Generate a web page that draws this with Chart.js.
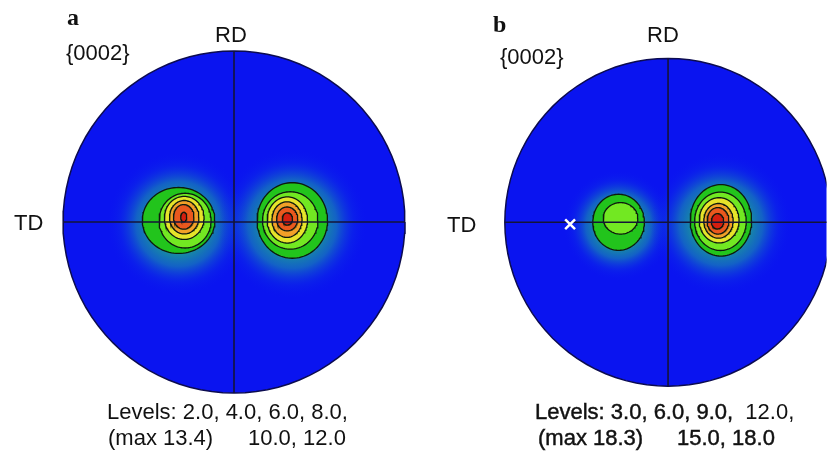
<!DOCTYPE html>
<html><head><meta charset="utf-8">
<script src="https://cdn.jsdelivr.net/npm/chart.js@4"></script>
<style>
body{margin:0;background:#fff;width:836px;height:458px;overflow:hidden;position:relative;font-family:"Liberation Sans",Arial,sans-serif;}
canvas{position:absolute;top:0}
.t{position:absolute;font-size:22px;color:#111;white-space:pre;line-height:1}
.s{font-family:"Liberation Serif","Times New Roman",serif;font-weight:bold;font-size:24px}
.h{-webkit-text-stroke:0.45px #111}
</style></head><body>
<canvas id="ca" width="418" height="458" style="left:0"></canvas>
<canvas id="cb" width="418" height="458" style="left:418px"></canvas>

<div class="t s" style="left:67px;top:5px">a</div>
<div class="t" style="left:66px;top:42px">{0002}</div>
<div class="t" style="left:215px;top:24px">RD</div>
<div class="t" style="left:14px;top:212px">TD</div>
<div class="t" style="left:107px;top:401px">Levels: 2.0, 4.0, 6.0, 8.0,</div>
<div class="t" style="left:108px;top:427px">(max 13.4)</div>
<div class="t" style="left:248px;top:427px">10.0, 12.0</div>

<div class="t s" style="left:493px;top:12px">b</div>
<div class="t" style="left:500px;top:46px">{0002}</div>
<div class="t" style="left:647px;top:24px">RD</div>
<div class="t" style="left:447px;top:214px">TD</div>
<div class="t h" style="left:535px;top:401px">Levels: 3.0, 6.0, 9.0,  <span style="-webkit-text-stroke:0">12.0,</span></div>
<div class="t h" style="left:538px;top:427px">(max 18.3)</div>
<div class="t h" style="left:677px;top:427px">15.0, 18.0</div>

<script>
// Contour levels shown in each pole figure
const levelsA = [2.0, 4.0, 6.0, 8.0, 10.0, 12.0];
const levelsB = [3.0, 6.0, 9.0, 12.0, 15.0, 18.0];
const maxA = 13.4, maxB = 18.3;
// band colours: region above level i
const bandColors = ['#22c41c', '#72e822', '#e6e42a', '#f2a028', '#ea581e', '#d41e10'];

// Contours per peak, one row per level: [centreX, centreY, radiusX, radiusY] (pole figure radius = 1)
const peakA1 = [[-0.324,0.009,0.212,0.193],[-0.286,0.008,0.152,0.160],[-0.291,0.024,0.116,0.126],[-0.291,0.028,0.086,0.098],[-0.294,0.030,0.060,0.072],[-0.294,0.029,0.018,0.028]];
const peakA2 = [[0.341,0.009,0.206,0.221],[0.329,0.009,0.162,0.168],[0.312,0.012,0.118,0.135],[0.310,0.014,0.088,0.104],[0.311,0.018,0.062,0.070],[0.312,0.018,0.030,0.036]];
const peakB1 = [[-0.303,0.000,0.158,0.171],[-0.291,0.024,0.106,0.096]];
const peakB2 = [[0.324,0.012,0.188,0.218],[0.321,0.006,0.158,0.178],[0.313,0.012,0.122,0.138],[0.309,0.009,0.090,0.106],[0.306,0.009,0.067,0.081],[0.303,0.006,0.038,0.047]];
// marker position in figure b
const markB = [{x:-0.600, y:-0.012}];

function outline(cx, cy, rx, ry){
  const pts = [];
  for(let i=0;i<=96;i++){const t=i/96*2*Math.PI; pts.push({x:cx+rx*Math.cos(t), y:cy+ry*Math.sin(t)});}
  return pts;
}
function haloFill(cx, cy, r){
  return (ctx) => {
    const ch = ctx.chart, xs = ch.scales.x, ys = ch.scales.y;
    if(!xs || !ys) return 'rgba(0,0,0,0)';
    const px = xs.getPixelForValue(cx), py = ys.getPixelForValue(cy);
    const pr = Math.abs(xs.getPixelForValue(cx + r) - px);
    if(!isFinite(px) || !isFinite(py) || !(pr > 0)) return 'rgba(0,0,0,0)';
    const g = ch.ctx.createRadialGradient(px, py, pr*0.25, px, py, pr);
    g.addColorStop(0, 'rgba(30,200,110,0.9)');
    g.addColorStop(0.45, 'rgba(25,150,170,0.6)');
    g.addColorStop(0.75, 'rgba(15,70,220,0.22)');
    g.addColorStop(1, 'rgba(10,20,240,0)');
    return g;
  };
}
function buildSets(peaks, mark){
  const sets = [];
  sets.push({data: outline(0,0,1,1), showLine:true, fill:'shape', backgroundColor:'#0a14f0', borderColor:'#0c0c50', borderWidth:1.5, pointRadius:0});
  peaks.forEach(p => {
    const o = p[0];
    const r = Math.max(o[2], o[3]) * 2.0;
    sets.push({data: outline(o[0], o[1]-0.02, r, r), showLine:true, fill:'shape', backgroundColor: haloFill(o[0], o[1]-0.02, r), borderWidth:0, borderColor:'rgba(0,0,0,0)', pointRadius:0});
  });
  peaks.forEach(p => {
    p.forEach((c, i) => {
      sets.push({data: outline(c[0], c[1], c[2], c[3]), showLine:true, fill:'shape', backgroundColor: bandColors[i], borderColor:'#0e1a0e', borderWidth:1.3, pointRadius:0});
    });
  });
  sets.push({data:[{x:-1,y:0},{x:1,y:0}], showLine:true, fill:false, borderColor:'#141438', borderWidth:1.6, pointRadius:0});
  sets.push({data:[{x:0,y:-1},{x:0,y:1}], showLine:true, fill:false, borderColor:'#141438', borderWidth:1.6, pointRadius:0});
  if(mark){
    sets.push({data: mark, showLine:false, pointStyle:'crossRot', pointRadius:7, borderColor:'#ffffff', backgroundColor:'#ffffff', borderWidth:2.5});
  }
  const n = sets.length;
  sets.forEach((s, i) => { s.order = n - i; });
  return sets;
}
function makeChart(id, sets, xmin, xmax, ymin, ymax){
  return new Chart(document.getElementById(id), {
    type:'scatter',
    data:{datasets: sets},
    options:{
      responsive:false, animation:false, events:[],
      layout:{padding:0},
      plugins:{legend:{display:false}, tooltip:{enabled:false}},
      scales:{
        x:{type:'linear', display:false, min:xmin, max:xmax},
        y:{type:'linear', display:false, min:ymin, max:ymax}
      }
    }
  });
}
const R = 171;
makeChart('ca', buildSets([peakA1, peakA2], null), -234/R, (418-234)/R, -(458-222)/R, 222/R);
makeChart('cb', buildSets([peakB1, peakB2], markB), -252/R, (418-252)/R, -(458-222)/R, 222/R);
</script>
</body></html>
